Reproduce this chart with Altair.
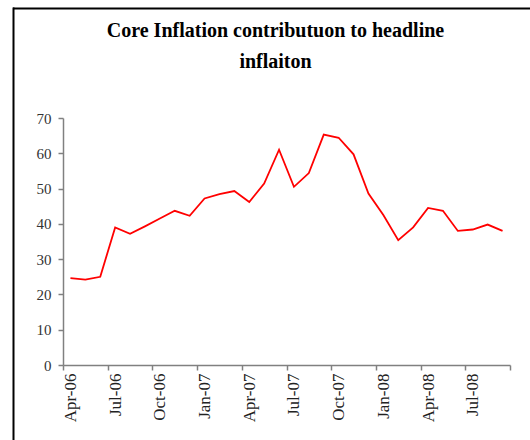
import json
import altair as alt
import pandas as pd

# Monthly core inflation contribution to headline inflation (%)
months = [
    "Apr-06", "May-06", "Jun-06", "Jul-06", "Aug-06", "Sep-06",
    "Oct-06", "Nov-06", "Dec-06", "Jan-07", "Feb-07", "Mar-07",
    "Apr-07", "May-07", "Jun-07", "Jul-07", "Aug-07", "Sep-07",
    "Oct-07", "Nov-07", "Dec-07", "Jan-08", "Feb-08", "Mar-08",
    "Apr-08", "May-08", "Jun-08", "Jul-08", "Aug-08", "Sep-08",
]
contribution = [
    24.6, 24.2, 25.0, 39.0, 37.2, 39.3,
    41.5, 43.7, 42.3, 47.2, 48.4, 49.3,
    46.2, 51.4, 61.0, 50.5, 54.4, 65.3,
    64.4, 59.7, 48.6, 42.5, 35.4, 39.0,
    44.5, 43.7, 38.0, 38.4, 39.8, 38.0,
]
y_ticks = [0, 10, 20, 30, 40, 50, 60, 70]

df = pd.DataFrame({
    "idx": list(range(len(months))),
    "month": months,
    "value": contribution,
})

n = len(months)
# ticks sit on category boundaries every quarter; labels centred on the month
boundaries = [i - 0.5 for i in range(0, n + 1, 3)]
label_expr = (
    f"(datum.value + 0.5) < {n} ? {json.dumps(months)}[datum.value + 0.5] : ''"
)

W, H = 447, 247
FONT = "Liberation Serif"

line = alt.Chart(df).mark_line(color="#FF0000", strokeWidth=1.8).encode(
    x=alt.X(
        "idx:Q",
        scale=alt.Scale(domain=[-0.5, n - 0.5], nice=False, zero=False),
        axis=alt.Axis(
            values=boundaries,
            labelExpr=label_expr,
            labelOffset=7.45,
            labelAngle=-90,
            labelFont=FONT,
            labelFontSize=17,
            labelColor="#222222",
            labelPadding=3,
            tickSize=5,
            tickColor="#808080",
            domainColor="#808080",
            domainWidth=1.5,
            tickWidth=1.5,
            grid=False,
            title=None,
            labelOverlap=False,
        ),
    ),
    y=alt.Y(
        "value:Q",
        scale=alt.Scale(domain=[0, 70], nice=False),
        axis=alt.Axis(
            values=y_ticks,
            labelFont=FONT,
            labelFontSize=15,
            labelColor="#333333",
            labelPadding=7,
            tickSize=5,
            tickColor="#808080",
            domainColor="#808080",
            domainWidth=1.5,
            tickWidth=1.5,
            grid=False,
            title=None,
        ),
    ),
)

# chart-area frame: top and left border lines
frame_data = alt.Data(values=[{}])
top_border = alt.Chart(frame_data).mark_rule(color="black", strokeWidth=2).encode(
    x=alt.value(-50), x2=alt.value(470), y=alt.value(-109.5)
)
left_border = alt.Chart(frame_data).mark_rule(color="black", strokeWidth=2).encode(
    x=alt.value(-49.5), y=alt.value(-110.5), y2=alt.value(330)
)

chart = (
    alt.layer(line, top_border, left_border)
    .properties(
        width=W,
        height=H,
        padding={"left": 63, "top": 118, "right": 20, "bottom": 75},
        autosize=alt.AutoSizeParams(type="none"),
        background="white",
        title=alt.TitleParams(
            text=["Core Inflation contributuon to headline", "inflaiton"],
            font=FONT,
            fontSize=20,
            fontWeight="bold",
            color="black",
            lineHeight=31,
            anchor="middle",
            dx=-11,
            offset=-65,
        ),
    )
    .configure_view(stroke=None)
)

chart.save("out.html", embed_options={"renderer": "svg", "actions": False})
